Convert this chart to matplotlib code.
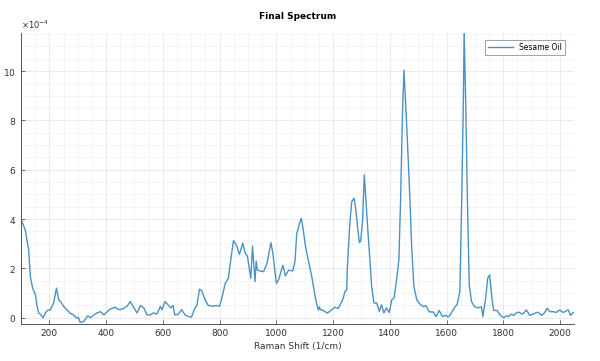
#!/usr/bin/env python3
"""Final Raman spectrum of sesame oil."""

import matplotlib
matplotlib.use('Agg')
import matplotlib.pyplot as plt
from matplotlib.ticker import MultipleLocator

# Raman shift (1/cm) and intensity (in units of 1e-4)
shift = [100, 115, 121, 127, 133, 141, 151, 157, 162, 168, 178, 186, 193, 203, 215,
         225, 233, 240, 251, 262, 274, 284, 295, 302, 309, 321, 327, 335, 345, 357,
         368, 380, 392, 404, 415, 433, 445, 458, 474, 485, 495, 509, 521, 533, 544,
         556, 568, 579, 591, 597, 608, 620, 628, 636, 642, 654, 666, 678, 690, 701,
         713, 720, 729, 737, 749, 760, 778, 790, 800, 808, 820, 831, 840, 849, 861,
         870, 882, 890, 898, 910, 916, 922, 925, 929, 933, 943, 955, 967, 981, 988,
         1000, 1008, 1023, 1032, 1043, 1058, 1066, 1072, 1076, 1082, 1088, 1095, 1102,
         1110, 1125, 1137, 1143, 1148, 1152, 1155, 1165, 1180, 1195, 1207, 1218, 1231,
         1236, 1242, 1248, 1250, 1255, 1260, 1266, 1274, 1279, 1283, 1288, 1293, 1297,
         1304, 1310, 1318, 1324, 1330, 1336, 1344, 1354, 1363, 1371, 1379, 1388, 1398,
         1407, 1415, 1424, 1432, 1438, 1445, 1450, 1457, 1465, 1471, 1477, 1485, 1495,
         1503, 1512, 1520, 1527, 1539, 1553, 1563, 1574, 1586, 1598, 1605, 1612, 1623,
         1630, 1637, 1642, 1647, 1654, 1659, 1662, 1668, 1673, 1680, 1688, 1699, 1711,
         1723, 1728, 1738, 1745, 1752, 1760, 1766, 1778, 1790, 1802, 1810, 1819, 1828,
         1837, 1846, 1855, 1866, 1874, 1882, 1893, 1905, 1914, 1923, 1935, 1945, 1955,
         1964, 1976, 1987, 1999, 2006, 2013, 2021, 2029, 2037, 2046, 2050]
intensity = [4.0, 3.56, 3.16, 2.75, 1.67, 1.2, 0.93, 0.46, 0.2, 0.15, 0.0, 0.2, 0.3, 0.32, 0.6,
             1.2, 0.73, 0.65, 0.45, 0.32, 0.18, 0.12, 0.0, 0.02, -0.19, -0.15, -0.05, 0.08, 0.0, 0.12,
             0.2, 0.25, 0.12, 0.25, 0.36, 0.43, 0.33, 0.36, 0.47, 0.66, 0.47, 0.2, 0.5, 0.4, 0.12,
             0.12, 0.2, 0.15, 0.46, 0.33, 0.66, 0.5, 0.4, 0.5, 0.12, 0.14, 0.33, 0.12, 0.05, 0.03,
             0.4, 0.5, 1.16, 1.1, 0.73, 0.5, 0.47, 0.5, 0.47, 0.8, 1.4, 1.6, 2.4, 3.13, 2.9,
             2.57, 3.03, 2.63, 2.5, 1.6, 2.91, 1.94, 1.47, 2.3, 1.94, 1.9, 1.87, 2.2, 3.05, 2.6,
             1.4, 1.54, 2.13, 1.7, 1.93, 1.9, 2.3, 3.43, 3.56, 3.85, 4.03, 3.56, 2.95,
             2.48, 1.67, 0.86, 0.53, 0.32, 0.45, 0.33, 0.3, 0.19, 0.33, 0.43, 0.38, 0.66,
             0.8, 1.07, 1.13, 1.94, 3.0, 3.97, 4.71, 4.85, 4.5, 4.1, 3.5, 3.05, 3.1,
             3.9, 5.79, 4.37, 3.3, 2.35, 1.27, 0.6, 0.6, 0.26, 0.53, 0.2, 0.4, 0.22,
             0.73, 0.8, 1.54, 2.35, 4.78, 8.42, 10.04, 8.42, 6.4, 4.78, 2.89, 1.27, 0.73,
             0.6, 0.5, 0.45, 0.5, 0.24, 0.24, 0.05, 0.3, 0.05, 0.1, 0.03, 0.1, 0.32,
             0.45, 0.53, 0.8, 1.07, 5.1, 8.5, 11.6, 8.5, 5.1, 1.34, 0.66, 0.45, 0.4,
             0.45, 0.05, 0.8, 1.6, 1.74, 0.8, 0.3, 0.3, 0.1, 0.0, 0.08, 0.05, 0.15,
             0.1, 0.2, 0.23, 0.15, 0.22, 0.32, 0.1, 0.15, 0.2, 0.23, 0.1, 0.2, 0.39,
             0.25, 0.25, 0.22, 0.32, 0.25, 0.22, 0.28, 0.32, 0.1, 0.22, 0.2]
intensity = [v * 1e-4 for v in intensity]

fig = plt.figure(figsize=(6.0, 3.61), dpi=100)
ax = fig.add_axes([0.035, 0.1025, 0.922, 0.8065])

ax.plot(shift, intensity, color='#4a92c6', linewidth=1.0, label='Sesame Oil')

ax.set_xlim(100, 2050)
ax.set_ylim(-0.25e-4, 11.55e-4)
ax.xaxis.set_major_locator(MultipleLocator(200))
ax.xaxis.set_minor_locator(MultipleLocator(50))
ax.yaxis.set_major_locator(MultipleLocator(2e-4))
ax.yaxis.set_minor_locator(MultipleLocator(0.5e-4))
# fix the exponent at 1e-4 like the original
ax.ticklabel_format(axis='y', style='sci', scilimits=(-4, -4), useMathText=True)
ax.yaxis.get_offset_text().set_fontsize(6)
ax.yaxis.get_offset_text().set_color('#444444')

ax.grid(which='major', color='#e6e6e6', linewidth=0.6)
ax.grid(which='minor', color='#f2f2f2', linewidth=0.5)
ax.set_axisbelow(True)

for side in ('top', 'right'):
    ax.spines[side].set_visible(False)
for side in ('left', 'bottom'):
    ax.spines[side].set_color('#555555')
    ax.spines[side].set_linewidth(0.7)
ax.tick_params(which='major', direction='in', length=3, width=0.6, colors='#555555',
               labelsize=6.5, labelcolor='#333333')
ax.tick_params(which='minor', length=0)

ax.set_xlabel('Raman Shift (1/cm)', fontsize=6.5, color='#333333', labelpad=3)
ax.set_title('Final Spectrum', fontsize=6.5, fontweight='bold', pad=10)

leg = ax.legend(loc='upper right', fontsize=5.5, frameon=True, fancybox=False,
                handlelength=3.2, borderpad=0.4, bbox_to_anchor=(0.99, 0.99))
leg.get_frame().set_edgecolor('#777777')
leg.get_frame().set_linewidth(0.6)

fig.savefig('out.png', dpi=100)
